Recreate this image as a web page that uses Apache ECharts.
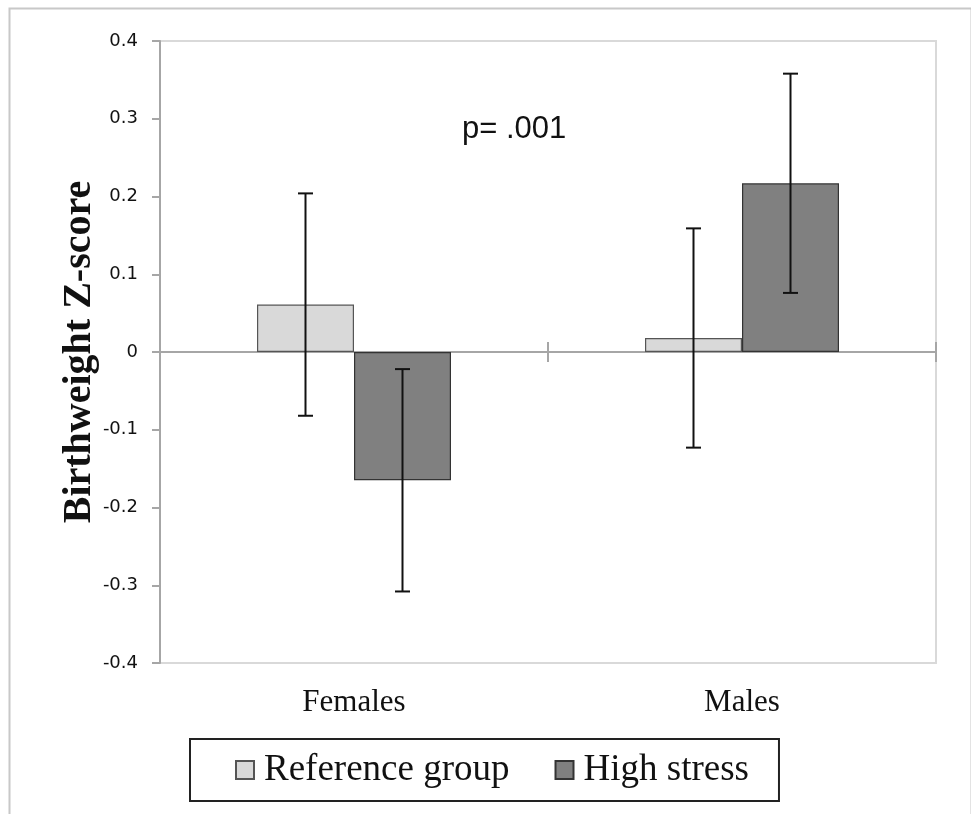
<!DOCTYPE html>
<html>
<head>
<meta charset="utf-8">
<script src="https://cdn.jsdelivr.net/npm/echarts@6/dist/echarts.min.js"></script>
<style>html,body{margin:0;padding:0;background:#fff;}#c{width:971px;height:814px;}</style>
</head>
<body>
<div id="c"></div>
<script>
const categories = ['Females', 'Males'];
const seriesNames = ['Reference group', 'High stress'];
const refMean = [0.061, 0.018];
const refLow = [-0.082, -0.123];
const refHigh = [0.204, 0.159];
const highMean = [-0.165, 0.217];
const highLow = [-0.308, 0.076];
const highHigh = [-0.022, 0.358];
const yTicks = { min: -0.4, max: 0.4, interval: 0.1 };
const pLabel = 'p= .001';

const chart = echarts.init(document.getElementById('c'));

function errData(low, high) {
  return categories.map((c, i) => [i, low[i], high[i]]);
}
function errSeries(name, low, high, offset) {
  return {
    type: 'custom',
    name: name + ' error',
    xAxisIndex: 0,
    z: 10,
    silent: true,
    data: errData(low, high),
    renderItem: function (params, api) {
      const i = api.value(0);
      const p1 = api.coord([i, api.value(1)]);
      const p2 = api.coord([i, api.value(2)]);
      const band = api.size([1, 0])[0];
      const x = p1[0] + offset * band;
      const cap = 7.5;
      const st = { stroke: '#111', lineWidth: 2 };
      return {
        type: 'group',
        children: [
          { type: 'line', shape: { x1: x, y1: p1[1], x2: x, y2: p2[1] }, style: st },
          { type: 'line', shape: { x1: x - cap, y1: p1[1], x2: x + cap, y2: p1[1] }, style: st },
          { type: 'line', shape: { x1: x - cap, y1: p2[1], x2: x + cap, y2: p2[1] }, style: st }
        ]
      };
    }
  };
}

const option = {
  animation: false,
  backgroundColor: '#fff',
  grid: {
    left: 160, right: 35, top: 41, bottom: 151,
    show: true, borderColor: '#d9d9d9', borderWidth: 2, backgroundColor: 'transparent'
  },
  legend: {
    left: 190, top: 739,
    data: seriesNames,
    icon: 'rect',
    itemWidth: 18, itemHeight: 18,
    itemGap: 45,
    padding: [11, 30, 11, 45],
    borderColor: '#222', borderWidth: 2,
    textStyle: { fontFamily: '"Liberation Serif", "Times New Roman", serif', fontSize: 37, color: '#111', lineHeight: 40, padding: [0, 0, 0, 5] }
  },
  xAxis: [
    {
      type: 'category', data: categories, position: 'bottom',
      axisLine: { show: false, onZero: false }, axisTick: { show: false },
      axisLabel: { margin: 24, fontFamily: '"Liberation Serif", "Times New Roman", serif', fontSize: 31, color: '#111' }
    },
    {
      type: 'category', data: categories, position: 'bottom',
      axisLine: { show: true, onZero: true, onZeroAxisIndex: 0, lineStyle: { color: '#a6a6a6', width: 2 } },
      axisTick: { show: true, length: 10, lineStyle: { color: '#a6a6a6', width: 2 } },
      axisLabel: { show: false }
    },
    {
      type: 'category', data: categories, position: 'bottom',
      axisLine: { show: true, onZero: true, onZeroAxisIndex: 1, lineStyle: { color: 'rgba(0,0,0,0)', width: 0 } },
      axisTick: { show: true, inside: true, length: 10, lineStyle: { color: '#a6a6a6', width: 2 } },
      axisLabel: { show: false }
    }
  ],
  yAxis: [
    {
      type: 'value', min: yTicks.min, max: yTicks.max, interval: yTicks.interval,
      name: 'Birthweight Z-score', nameLocation: 'middle', nameGap: 60, nameMoveOverlap: false,
      nameTextStyle: { fontFamily: '"Liberation Serif", "Times New Roman", serif', fontWeight: 'bold', fontSize: 40, color: '#111' },
      axisLine: { show: true, lineStyle: { color: '#a6a6a6', width: 2 } },
      axisTick: { show: true, length: 8, lineStyle: { color: '#a6a6a6', width: 2 } },
      splitLine: { show: false },
      axisLabel: { margin: 22, fontFamily: '"DejaVu Sans", sans-serif', fontSize: 18, color: '#111' }
    },
    {
      type: 'value', min: yTicks.min, max: yTicks.max, interval: yTicks.interval,
      position: 'left',
      axisLine: { show: false }, axisTick: { show: false }, axisLabel: { show: false }, splitLine: { show: false }
    }
  ],
  series: [
    {
      name: seriesNames[0], type: 'bar', xAxisIndex: 0, data: refMean,
      barWidth: '25%', barGap: '0%',
      itemStyle: { color: '#d9d9d9', borderColor: '#555', borderWidth: 1.2 }
    },
    {
      name: seriesNames[1], type: 'bar', xAxisIndex: 0, data: highMean,
      barWidth: '25%', barGap: '0%',
      itemStyle: { color: '#808080', borderColor: '#333', borderWidth: 1.2 }
    },
    errSeries(seriesNames[0], refLow, refHigh, -0.125),
    errSeries(seriesNames[1], highLow, highHigh, 0.125)
  ],
  graphic: [
    {
      type: 'rect', left: 7, top: 6, z: -1,
      shape: { width: 962, height: 830 },
      style: { fill: 'none', stroke: '#c8c8c8', lineWidth: 2 }
    },
    {
      type: 'text', left: 462, top: 114,
      style: { text: pLabel, fontFamily: '"Liberation Sans", Arial, sans-serif', fontSize: 31, fill: '#111' }
    }
  ]
};
chart.setOption(option);
</script>
</body>
</html>
